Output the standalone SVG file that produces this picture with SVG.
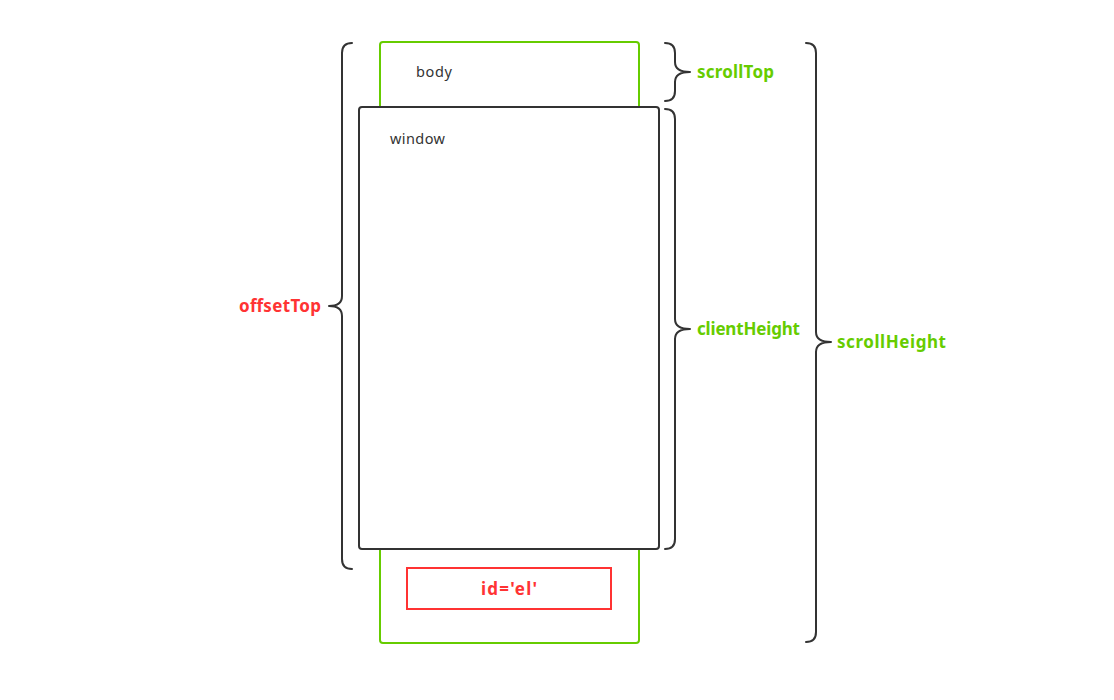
<svg xmlns="http://www.w3.org/2000/svg" width="1114" height="700" viewBox="0 0 1114 700">
<style>
.brace{fill:none;stroke:#333;stroke-width:2;stroke-linecap:round;stroke-linejoin:round}
.lbl{font-family:"Noto Sans","Open Sans",sans-serif;font-weight:bold;font-size:17px}
.g{fill:#66cc00}
.r{fill:#ff3333}
.plain{font-family:"Noto Sans","Open Sans",sans-serif;font-size:14.5px;fill:#333}
</style>
<rect width="1114" height="700" fill="#fff"/>
<g id="body">
<rect x="380" y="42" width="259" height="601" rx="3" fill="#fff" stroke="#66cc00" stroke-width="2"/>
<text class="plain" x="416" y="77" textLength="36">body</text>
</g>
<g id="window">
<rect x="359" y="107" width="300" height="442" rx="3" fill="#fff" stroke="#333" stroke-width="2"/>
<text class="plain" x="390" y="144" textLength="55">window</text>
</g>
<g id="el">
<rect x="407" y="568" width="204" height="41" fill="#fff" stroke="#ff3333" stroke-width="2"/>
<text class="lbl r" x="481" y="595" textLength="56">id='el'</text>
</g>
<g id="braces">
<path class="brace" d="M352,43 Q342,43 342,53 V296 Q342,306 329,306 Q342,306 342,316 V559 Q342,569 352,569"/>
<path class="brace" d="M665,43 Q675,43 675,53 V62 Q675,72 690,72 Q675,72 675,82 V91 Q675,101 665,101"/>
<path class="brace" d="M665,109 Q675,109 675,119 V319 Q675,329 690,329 Q675,329 675,339 V539 Q675,549 665,549"/>
<path class="brace" d="M806,43 Q816,43 816,53 V332 Q816,342 831,342 Q816,342 816,352 V632 Q816,642 806,642"/>
</g>
<g id="offsetTop"><text class="lbl r" x="239" y="312" textLength="82">offsetTop</text></g>
<g id="scrollTop"><text class="lbl g" x="697" y="78" textLength="77">scrollTop</text></g>
<g id="clientHeight"><text class="lbl g" x="697" y="335" textLength="103">clientHeight</text></g>
<g id="scrollHeight"><text class="lbl g" x="837" y="348" textLength="109">scrollHeight</text></g>
</svg>
